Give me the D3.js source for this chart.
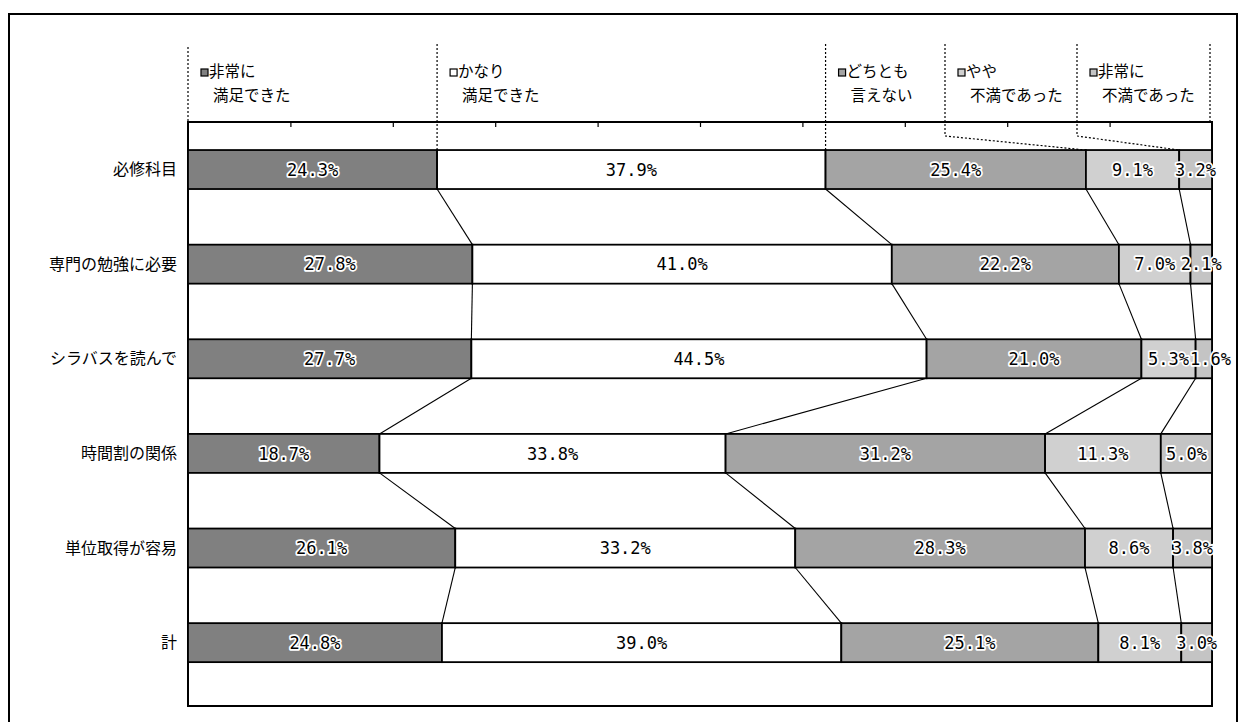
<!DOCTYPE html>
<html>
<head>
<meta charset="utf-8">
<script src="https://cdn.jsdelivr.net/npm/d3@7"></script>
<style>
  body { margin: 0; background: #fff; }
  text { font-family: "Noto Sans CJK JP", sans-serif; }
</style>
</head>
<body>
<svg width="1242" height="722"></svg>
<script>
// data
var categories = ["必修科目", "専門の勉強に必要", "シラバスを読んで", "時間割の関係", "単位取得が容易", "計"];
var seriesKeys = ["s1", "s2", "s3", "s4", "s5"];
var seriesLabels = [["非常に", "満足できた"], ["かなり", "満足できた"], ["どちとも", "言えない"], ["やや", "不満であった"], ["非常に", "不満であった"]];
var verySatisfied = [24.3, 27.8, 27.7, 18.7, 26.1, 24.8];
var fairlySatisfied = [37.9, 41.0, 44.5, 33.8, 33.2, 39.0];
var neutral = [25.4, 22.2, 21.0, 31.2, 28.3, 25.1];
var slightlyDissatisfied = [9.1, 7.0, 5.3, 11.3, 8.6, 8.1];
var veryDissatisfied = [3.2, 2.1, 1.6, 5.0, 3.8, 3.0];
var xTicks = [0.1, 0.2, 0.3, 0.4, 0.5, 0.6, 0.7, 0.8, 0.9];

var svg = d3.select("svg"),
    plot = {left: 188, top: 122, right: 1212, bottom: 706};

var colors = ["#808080", "#ffffff", "#a4a4a4", "#d0d0d0", "#c4c4c4"];

var data = categories.map(function(c, i) {
  return {cat: c, s1: verySatisfied[i], s2: fairlySatisfied[i], s3: neutral[i],
          s4: slightlyDissatisfied[i], s5: veryDissatisfied[i]};
});

var series = d3.stack().keys(seriesKeys).offset(d3.stackOffsetExpand)(data);

var x = d3.scaleLinear().domain([0, 1]).range([plot.left, plot.right]);
var y = d3.scaleBand().domain(categories).range([plot.top, plot.bottom])
    .paddingInner(0.588).paddingOuter(0.38).align(0.39);
var bw = y.bandwidth();

// outer frame
svg.append("rect")
    .attr("x", 9).attr("y", 14).attr("width", 1228).attr("height", 730)
    .attr("fill", "none").attr("stroke", "#000").attr("stroke-width", 2);

// plot frame
svg.append("rect")
    .attr("x", plot.left).attr("y", plot.top)
    .attr("width", plot.right - plot.left).attr("height", plot.bottom - plot.top)
    .attr("fill", "#fff").attr("stroke", "#000").attr("stroke-width", 2);

// little ticks on the top edge
svg.append("g")
    .attr("transform", "translate(0," + plot.top + ")")
    .call(d3.axisTop(x).tickValues(xTicks).tickSizeInner(-5).tickSizeOuter(0).tickFormat(""))
    .call(function(g) { g.select(".domain").remove(); })
    .selectAll("line").attr("stroke", "#000").attr("stroke-width", 1.2);

// connector lines between bars
var links = [];
for (var k = 0; k < seriesKeys.length - 1; k++) {
  for (var i = 0; i < categories.length - 1; i++) {
    links.push({x1: x(series[k][i][1]), y1: y(categories[i]) + bw,
                x2: x(series[k][i + 1][1]), y2: y(categories[i + 1])});
  }
}
svg.append("g").selectAll("line")
  .data(links)
  .enter().append("line")
    .attr("x1", function(d) { return d.x1; })
    .attr("y1", function(d) { return d.y1; })
    .attr("x2", function(d) { return d.x2; })
    .attr("y2", function(d) { return d.y2; })
    .attr("stroke", "#000").attr("stroke-width", 1.1);

// bars
var layer = svg.append("g").selectAll("g")
  .data(series)
  .enter().append("g")
    .attr("fill", function(d, i) { return colors[i]; });

layer.selectAll("rect")
  .data(function(d) { return d; })
  .enter().append("rect")
    .attr("x", function(d) { return x(d[0]); })
    .attr("y", function(d) { return y(d.data.cat); })
    .attr("width", function(d) { return x(d[1]) - x(d[0]); })
    .attr("height", bw)
    .attr("stroke", "#000").attr("stroke-width", 1.8);

// value labels
var labels = layer.selectAll("text")
  .data(function(d) { return d.map(function(p) { p.key = d.key; return p; }); })
  .enter().append("text")
    .attr("x", function(d) { return (x(d[0]) + x(d[1])) / 2; })
    .attr("y", function(d) { return y(d.data.cat) + bw / 2; })
    .attr("dy", "0.36em")
    .attr("text-anchor", "middle")
    .style("font-family", "'DejaVu Sans Mono', monospace")
    .style("font-size", "17px")
    .attr("fill", "#000")
    .attr("stroke", function(d) { return d.key === "s2" ? "none" : "#fff"; })
    .attr("stroke-width", 3.5)
    .attr("stroke-linejoin", "round")
    .attr("paint-order", "stroke")
    .text(function(d) { return d.data[d.key].toFixed(1) + "%"; });

// push a label right if it runs into the one before it
categories.forEach(function(c) {
  var row = labels.filter(function(d) { return d.data.cat === c; }).nodes();
  for (var j = 1; j < row.length; j++) {
    var prev = row[j - 1], cur = row[j];
    var prevRight = +prev.getAttribute("x") + prev.getComputedTextLength() / 2,
        curLeft = +cur.getAttribute("x") - cur.getComputedTextLength() / 2;
    if (prevRight + 1 > curLeft) cur.setAttribute("x", +cur.getAttribute("x") + (prevRight + 1 - curLeft));
  }
});

// category labels
svg.append("g").selectAll("text")
  .data(categories)
  .enter().append("text")
    .attr("x", plot.left - 11)
    .attr("y", function(d) { return y(d) + bw / 2; })
    .attr("dy", "0.35em")
    .attr("text-anchor", "end")
    .style("font-size", "16px")
    .attr("fill", "#000")
    .text(function(d) { return d; });

// legend columns across the top
var legTop = 44,
    colStart = [x(0), x(series[0][0][1]), x(series[1][0][1]), 945, 1077],
    legRight = 1210;

var dash = svg.append("g")
    .attr("fill", "none").attr("stroke", "#000")
    .attr("stroke-width", 1.2).attr("stroke-dasharray", "2,2");

dash.append("line").attr("x1", colStart[0]).attr("x2", colStart[0])
    .attr("y1", legTop + 3).attr("y2", plot.top);
dash.append("line").attr("x1", legRight).attr("x2", legRight)
    .attr("y1", legTop).attr("y2", plot.top);
[1, 2].forEach(function(c) {
  dash.append("line").attr("x1", colStart[c]).attr("x2", colStart[c])
      .attr("y1", legTop).attr("y2", y(categories[0]));
});
[3, 4].forEach(function(c) {
  dash.append("path")
      .attr("d", "M" + colStart[c] + "," + legTop + "V" + (plot.top + 14) +
                 "L" + x(series[c - 1][0][1]) + "," + y(categories[0]));
});

var leg = svg.append("g").selectAll("g")
  .data(seriesLabels)
  .enter().append("g")
    .attr("transform", function(d, i) { return "translate(" + colStart[i] + ",0)"; });

leg.append("rect")
    .attr("x", 13).attr("y", 69).attr("width", 7).attr("height", 7)
    .attr("fill", function(d, i) { return colors[i]; })
    .attr("stroke", "#000").attr("stroke-width", 1.2);

leg.append("text")
    .attr("x", 21).attr("y", 72).attr("dy", "0.35em")
    .style("font-size", "15.5px")
    .text(function(d) { return d[0]; });

leg.append("text")
    .attr("x", 25).attr("y", 96).attr("dy", "0.35em")
    .style("font-size", "15.5px")
    .text(function(d) { return d[1]; });
</script>
</body>
</html>
